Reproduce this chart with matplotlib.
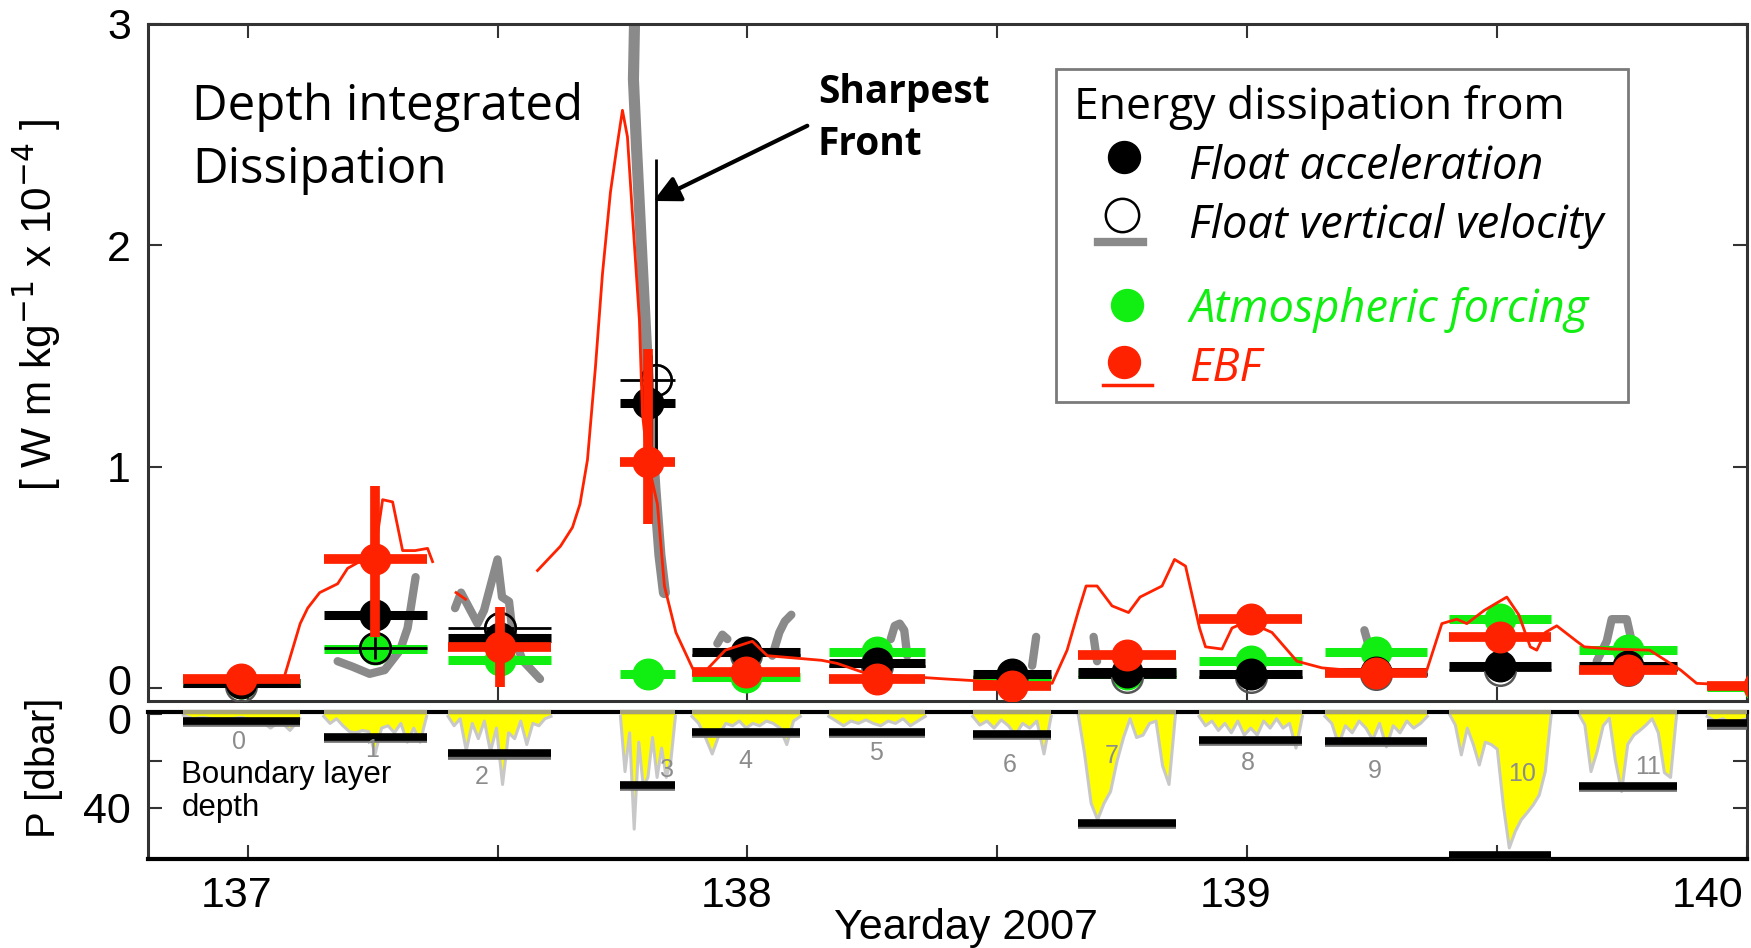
import matplotlib
matplotlib.use("Agg")
import matplotlib.pyplot as plt
import numpy as np
from matplotlib import font_manager
from matplotlib.patches import Rectangle
from matplotlib.transforms import ScaledTranslation

# ---- profile bookkeeping (yearday spans of each float profile) ----
prof_start = [136.871, 137.152, 137.401, 137.746, 137.889, 138.163, 138.451,
              138.662, 138.904, 139.156, 139.405, 139.664, 139.921]
prof_end = [137.104, 137.358, 137.607, 137.856, 138.106, 138.356, 138.608,
            138.857, 139.111, 139.361, 139.609, 139.860, 140.130]

# boundary layer depth per profile [dbar]
bl_depth = [3.0, 9.7, 16.7, 30.2, 7.7, 7.7, 8.5, 46.2, 11.1, 11.5, 60.0, 30.5, 4.0]

# depth-integrated dissipation per profile [W m kg^-1 x 1e-4]
acc_val = [0.02, 0.33, 0.225, 1.285, 0.16, 0.11, 0.06, 0.07, 0.06, 0.07, 0.10, 0.10, np.nan]
acc_err = [0.0, 0.0, 0.0, 0.22, 0.0, 0.0, 0.0, 0.0, 0.0, 0.0, 0.0, 0.0, 0.0]
vel_val = [0.01, 0.18, 0.27, 1.39, 0.15, 0.10, 0.05, 0.05, 0.05, 0.06, 0.08, 0.08, np.nan]
vel_lo = [0.02, 0.05, 0.04, 0.36, 0.03, 0.03, 0.03, 0.03, 0.03, 0.03, 0.03, 0.03, 0.0]
vel_hi = [0.02, 0.05, 0.04, 1.00, 0.03, 0.03, 0.03, 0.03, 0.03, 0.03, 0.03, 0.03, 0.0]
atm_val = [0.02, 0.176, 0.125, 0.063, 0.05, 0.16, 0.04, 0.06, 0.12, 0.16, 0.31, 0.17, 0.005]
ebf_val = [0.04, 0.58, 0.185, 1.02, 0.07, 0.04, 0.01, 0.15, 0.31, 0.065, 0.23, 0.08, 0.01]
ebf_lo = [0.0, 0.35, 0.18, 0.28, 0.0, 0.0, 0.0, 0.0, 0.05, 0.0, 0.0, 0.0, 0.0]
ebf_hi = [0.0, 0.33, 0.18, 0.51, 0.0, 0.0, 0.0, 0.0, 0.05, 0.0, 0.0, 0.0, 0.0]

# EBF time series (red line), NaN marks a gap
ebf_t = [137.075, 137.105, 137.12, 137.144, 137.18, 137.20, 137.24, 137.255, 137.27,
         137.29, 137.31, 137.335, 137.36, 137.37, np.nan,
         137.417, 137.436, np.nan,
         137.58, 137.626, 137.65, 137.665, 137.68, 137.696, 137.71, 137.726, 137.738,
         137.75, 137.76, 137.772, 137.784, 137.79, 137.80, 137.82, 137.834, 137.857,
         137.892, 137.918, 137.956, 138.01, 138.04, 138.149, 138.18, 138.24, 138.395,
         138.47, 138.61, 138.64, 138.663, 138.678, 138.70, 138.73, 138.763, 138.786,
         138.83, 138.855, 138.877, 138.905, 138.917, 138.95, 138.97, 139.0, 139.05,
         139.1, 139.15, 139.2, 139.3, 139.36, 139.39, 139.42, 139.44, 139.475, 139.52,
         139.544, 139.567, 139.58, 139.597, 139.62, 139.66, 139.675, 139.73, 139.806,
         139.868, 139.90, 140.0]
ebf_v = [0.063, 0.29, 0.36, 0.43, 0.47, 0.54, 0.59, 0.62, 0.85,
         0.84, 0.62, 0.62, 0.63, 0.57, np.nan,
         0.43, 0.40, np.nan,
         0.53, 0.64, 0.725, 0.83, 1.03, 1.45, 1.87, 2.24, 2.43,
         2.61, 2.49, 2.07, 1.66, 1.24, 1.03, 0.83, 0.46, 0.25,
         0.08, 0.08, 0.17, 0.21, 0.145, 0.124, 0.11, 0.063, 0.04,
         0.03, 0.02, 0.17, 0.35, 0.46, 0.46, 0.37, 0.34, 0.41,
         0.46, 0.58, 0.55, 0.27, 0.185, 0.175, 0.27, 0.30, 0.25,
         0.12, 0.09, 0.08, 0.07, 0.08, 0.29, 0.31, 0.29, 0.35, 0.41,
         0.33, 0.185, 0.17, 0.25, 0.28, 0.21, 0.185, 0.175, 0.17,
         0.08, 0.02, 0.01]

# float vertical velocity estimate (gray traces)
vel_trace_t = [137.18, 137.21, 137.244, 137.274, 137.305, 137.32, 137.336, np.nan,
               137.415, 137.427, 137.46, 137.473, 137.50, 137.509, 137.523, 137.53,
               137.55, 137.585, np.nan,
               137.94, 137.95, 137.96, np.nan,
               138.05, 138.064, 138.075, 138.088, np.nan,
               138.287, 138.295, 138.305, 138.314, 138.32, np.nan,
               138.578, 138.57, np.nan,
               138.693, 138.70, np.nan,
               139.235, 139.24, 139.25, np.nan,
               139.70, 139.72, 139.73, 139.76, 139.77, 139.76]
vel_trace_v = [0.12, 0.095, 0.063, 0.08, 0.17, 0.27, 0.50, np.nan,
               0.36, 0.43, 0.29, 0.35, 0.58, 0.41, 0.39, 0.25,
               0.124, 0.04, np.nan,
               0.20, 0.24, 0.22, np.nan,
               0.145, 0.25, 0.30, 0.33, np.nan,
               0.22, 0.28, 0.29, 0.26, 0.145, np.nan,
               0.23, 0.10, np.nan,
               0.23, 0.12, np.nan,
               0.26, 0.22, 0.13, np.nan,
               0.12, 0.21, 0.31, 0.31, 0.21, 0.17]
front_t = [137.775, 137.772, 137.778, 137.79, 137.80, 137.815, 137.825, 137.834]
front_v = [3.1, 2.75, 2.45, 1.9, 1.45, 0.9, 0.6, 0.43]

# pressure excursions within each profile [dbar], evenly spaced over the span
prof_depth = [
    [0.5, 2, 1.5, 2, 2.5, 2, 1.5, 2.5, 3, 6, 3, 7, 2],
    [1, 4, 2, 5, 7.5, 8, 7, 7.5, 17, 6, 5, 8, 4, 12, 6, 12, 1],
    [1, 5, 2, 15.5, 4, 10.5, 3, 16, 6, 30, 8, 10.5, 3, 13, 4, 5, 2, 1],
    [1, 24.5, 8, 49, 12, 31, 27, 10, 27, 14.5, 27, 20, 1],
    [1, 4, 10, 17, 9, 4, 5, 3, 6, 4, 5, 3, 4, 6, 13, 3, 1],
    [1, 3, 5, 3, 4, 2.5, 4, 5, 3, 4, 2, 5, 3, 1],
    [1, 4.7, 3, 6, 2.5, 5, 9, 4, 6, 3, 17, 1],
    [0, 17, 38, 45, 38, 33, 20, 10, 2, 10, 9, 4, 3, 22, 30, 0],
    [1, 5, 3, 7, 4, 8, 3, 9, 6, 9, 3, 6, 2, 6, 4, 14.5, 1],
    [1, 4, 13, 5, 8, 3, 6, 11, 4, 14, 5, 8, 3, 6, 4, 1],
    [0, 4.7, 17.4, 6, 13, 21.7, 12, 13, 15, 38.7, 57, 50, 45, 42, 38.7, 34.5, 24.5, 0],
    [0, 4.7, 24.5, 16, 5, 1.8, 20, 33, 13, 9, 7, 4.7, 2, 8, 25, 27, 0],
    [1, 3, 2, 4, 3, 2],
]
prof_depth_end = prof_end[:-1] + [140.0]

# profile number labels
lab_t = [136.983, 137.249, 137.468, 137.840, 137.996, 138.258, 138.525, 138.729,
         139.001, 139.256, 139.551, 139.802]
lab_d = [11.8, 15.3, 26.7, 23.8, 19.9, 16.5, 21.7, 17.9, 20.7, 24.1, 25.5, 22.4]

RED = "#ff2200"
GREEN = "#11ee11"
GRAY = "#8a8a8a"

names = {f.name for f in font_manager.fontManager.ttflist}
TXT = "Open Sans" if "Open Sans" in names else "DejaVu Sans"
NUM = "Liberation Sans" if "Liberation Sans" in names else "DejaVu Sans"
plt.rcParams["font.family"] = NUM

start = np.array(prof_start)
end = np.array(prof_end)
mid = (start + end) / 2
vel_t = mid.copy()
vel_t[3] = 137.818

fig = plt.figure(figsize=(17.51, 9.48), dpi=100)
ax1 = fig.add_axes([0.0844, 0.2605, 0.9131, 0.7142])
ax2 = fig.add_axes([0.0844, 0.0939, 0.9131, 0.1554])

# ---------------- upper panel ----------------
ax1.plot(front_t, front_v, color=GRAY, lw=8, solid_capstyle="round", zorder=1)
ax1.plot(vel_trace_t, vel_trace_v, color=GRAY, lw=6, solid_capstyle="round", zorder=1)


def series(ax, t, v, lo, hi, z, **kw):
    v = np.asarray(v, dtype=float)
    ok = ~np.isnan(v)
    t = np.asarray(t)[ok]
    ax.errorbar(t, v[ok], xerr=[t - start[ok], end[ok] - t],
                yerr=[np.asarray(lo)[ok], np.asarray(hi)[ok]],
                fmt="o", capsize=0, zorder=z, **kw)


series(ax1, mid, atm_val, np.zeros(13), np.zeros(13), 3,
       color=GREEN, ms=22, elinewidth=6.5)
series(ax1, vel_t, vel_val, vel_lo, vel_hi, 3.5,
       color="black", mfc="none", mec="#555555", mew=1.8, ms=22, elinewidth=2)
series(ax1, mid, acc_val, acc_err, acc_err, 4,
       color="black", ms=22, elinewidth=6.5)
series(ax1, mid, ebf_val, ebf_lo, ebf_hi, 6,
       color=RED, ms=22, elinewidth=7)
ax1.plot(ebf_t, ebf_v, color=RED, lw=2, zorder=7)

# open circles of the first profiles sit on top of the green marks
ax1.plot(vel_t[1:4], vel_val[1:4], "o", mfc="none", mec="black", mew=1.8, ms=22, zorder=5)

ax1.set_xlim(136.8, 140.0)
ax1.set_ylim(-0.06, 3.0)
ax1.set_xticks(np.arange(137, 140.01, 0.5))
ax1.set_xticklabels([])
ax1.set_yticks([0, 1, 2, 3])
ax1.set_ylabel(r"[ W m kg$^{-1}$ x 10$^{-4}$ ]", fontsize=30.5)
ax1.yaxis.set_label_coords(-0.053, 0.585)

ax1.text(0.0275, 0.915, "Depth integrated\nDissipation", transform=ax1.transAxes,
         family=TXT, fontsize=35.5, va="top", ha="left", linespacing=1.38)

ax1.annotate("", xy=(137.812, 2.2), xytext=(138.12, 2.54),
             arrowprops=dict(arrowstyle="-|>", color="black", lw=3,
                             mutation_scale=40, shrinkA=0, shrinkB=0), zorder=8)
ax1.text(138.141, 2.78, "Sharpest\nFront", family=TXT, weight="bold",
         fontsize=28, va="top", ha="left", linespacing=1.45)

# hand-built legend box
la = ax1.transAxes
ax1.add_patch(Rectangle((0.568, 0.4417), 0.3579, 0.4918, transform=la,
                        facecolor="white", edgecolor="#7a7a7a", lw=2, zorder=10))
ax1.text(0.5793, 0.877, "Energy dissipation from", transform=la, family=TXT,
         fontsize=32, va="center", ha="left", zorder=11)
ax1.plot([0.6106], [0.8035], "o", color="black", ms=23, transform=la, zorder=11)
ax1.plot([0.6092], [0.7183], "o", mfc="white", mec="black", mew=1.8, ms=24,
         transform=la, zorder=11)
ax1.plot([0.5944, 0.6225], [0.6784, 0.6784], color=GRAY, lw=6, transform=la, zorder=11)
ax1.plot([0.6123], [0.5849], "o", color=GREEN, ms=23, transform=la, zorder=11)
ax1.plot([0.6106], [0.5007], "o", color=RED, ms=23, transform=la, zorder=11)
ax1.plot([0.5972, 0.6279], [0.4668, 0.4668], color=RED, lw=2.5, transform=la, zorder=11)
for y, label, c in [(0.7885, "Float acceleration", "black"),
                    (0.7015, "Float vertical velocity", "black"),
                    (0.5775, "Atmospheric forcing", GREEN),
                    (0.4905, "EBF", RED)]:
    ax1.text(0.6514, y, label, transform=la, family=TXT, style="italic",
             fontsize=32.5, color=c, va="center", ha="left", zorder=11)

# ---------------- lower panel ----------------
for s, e, d in zip(prof_start, prof_depth_end, prof_depth):
    tt = np.linspace(s, e, len(d))
    ax2.fill_between(tt, -1, d, color="#ffff00", lw=0, zorder=2)
    ax2.plot(tt, d, color="#c8c8c8", lw=2.2, zorder=2)

ax2.hlines(np.array(bl_depth) + 1.0, start, end, color="#707070", lw=5.5, zorder=3)
ax2.hlines(bl_depth, start, end, color="black", lw=5.5, zorder=4)
for i, (t, d) in enumerate(zip(lab_t, lab_d)):
    ax2.text(t, d, str(i), color="#8c8c8c", fontsize=18, ha="center",
             va="center", zorder=5)

ax2.text(136.867, 19.5, "Boundary layer\ndepth", fontsize=22.5, ha="left",
         va="top", linespacing=1.15, zorder=5)

ax2.set_xlim(136.8, 140.0)
ax2.set_ylim(61.7, -1)
ax2.set_yticks([0, 20, 40])
ax2.set_yticklabels(["0", "", "40"])
ax2.set_xticks(np.arange(137, 140.01, 0.5))
ax2.set_xticklabels(["137", "", "138", "", "139", "", "140"])
ax2.set_ylabel("P [dbar]", fontsize=29)
ax2.yaxis.set_label_coords(-0.053, 0.62)
ax2.set_xlabel("Yearday 2007", fontsize=31)
ax2.xaxis.set_label_coords(0.512, -0.33)

for ax in (ax1, ax2):
    ax.tick_params(direction="in", length=10, width=1.5, top=True, right=True,
                   labelsize=31, pad=12, colors="#333333", labelcolor="black")
    for sp in ax.spines.values():
        sp.set_linewidth(2.2)
        sp.set_color("#333333")
ax2.spines["top"].set_color("black")
ax2.spines["top"].set_linewidth(3)
ax2.spines["bottom"].set_color("black")
ax2.spines["bottom"].set_linewidth(3)

# surface line over each profile shows the trace colour, not the frame
ax2.hlines(np.full(len(start), -1.0), start, np.minimum(end, 140.0),
           color="#a8a27a", lw=3, zorder=6, clip_on=False)

dpi_tr = fig.dpi_scale_trans
for lab in ax2.get_xticklabels():
    lab.set_transform(lab.get_transform() + ScaledTranslation(-8 / 72, 0, dpi_tr))
last = ax2.get_xticklabels()[-1]
last.set_transform(last.get_transform() + ScaledTranslation(-20 / 72, 0, dpi_tr))

# keep the two zero labels at the panel junction apart
zero_top = ax1.get_yticklabels()[0]
zero_top.set_transform(zero_top.get_transform() + ScaledTranslation(0, 6 / 72, dpi_tr))
zero_bot = ax2.get_yticklabels()[0]
zero_bot.set_transform(zero_bot.get_transform() + ScaledTranslation(0, -3 / 72, dpi_tr))

fig.savefig("out.png", dpi=100, facecolor="white")
